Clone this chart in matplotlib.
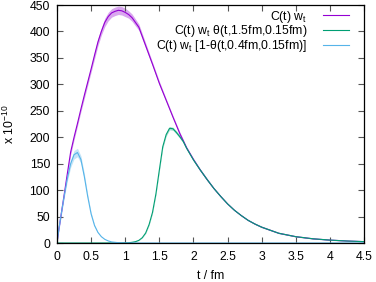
import matplotlib
matplotlib.use("Agg")
import matplotlib.pyplot as plt
import numpy as np

plt.rcParams['font.family'] = ['Liberation Sans', 'DejaVu Sans']
plt.rcParams['mathtext.fontset'] = 'custom'
plt.rcParams['mathtext.rm'] = 'Liberation Sans'
plt.rcParams['mathtext.it'] = 'Liberation Sans'

# ---- data ----
t_full = [0, 0.025, 0.05, 0.075, 0.1, 0.15, 0.2, 0.25, 0.3, 0.35, 0.4, 0.45, 0.5, 0.55,
          0.6, 0.65, 0.7, 0.75, 0.8, 0.85, 0.9, 0.95, 1.0, 1.05, 1.1, 1.2, 1.3, 1.4,
          1.5, 1.6, 1.7, 1.8, 1.9, 2.0, 2.1, 2.2, 2.3, 2.4, 2.5, 2.6, 2.7, 2.8, 2.9,
          3.0, 3.25, 3.5, 3.75, 4.0, 4.25, 4.5]
c_full = [0, 24, 45, 66, 87, 130, 172, 200, 226, 253, 279, 304, 329, 355,
          380, 400, 417, 428, 435, 438, 440, 439, 436, 432, 426, 408, 373, 338,
          302, 270, 238, 207, 180, 158, 138, 120, 103, 88, 74, 62, 52, 43, 36,
          30, 18.5, 12, 8, 5.5, 3.8, 2.6]
c_full_err = [0, 2, 3, 3, 4, 4, 5, 5, 5, 5, 6, 6, 6, 7,
              7, 7, 8, 8, 8, 8, 8, 8, 8, 7, 7, 6, 5, 4,
              4, 3, 3, 3, 2, 2, 2, 2, 1.5, 1.5, 1, 1, 1, 1, 1,
              1, 0.8, 0.6, 0.5, 0.4, 0.3, 0.3]

t_late = [0, 0.5, 0.9, 1.0, 1.05, 1.1, 1.15, 1.2, 1.25, 1.3, 1.35, 1.4, 1.45, 1.5, 1.55,
          1.6, 1.65, 1.7, 1.75, 1.8, 1.85, 1.9, 2.0, 2.1, 2.2, 2.3, 2.4, 2.5, 2.6,
          2.7, 2.8, 2.9, 3.0, 3.25, 3.5, 3.75, 4.0, 4.25, 4.5]
c_late = [0, 0, 0.1, 0.3, 0.5, 1.3, 2.5, 5, 10, 19, 35, 58, 93, 138, 182,
          205, 217, 216, 209, 201, 192, 179, 157, 138, 120, 103, 88, 74, 62,
          52, 43, 36, 30, 18.5, 12, 8, 5.5, 3.8, 2.6]
c_late_err = [0, 0, 0, 0, 0, 0, 0.2, 0.3, 0.5, 1, 1.5, 2, 2.5, 3, 3,
              3, 3, 3, 3, 3, 2.5, 2, 2, 2, 2, 1.5, 1.5, 1, 1,
              1, 1, 1, 1, 0.8, 0.6, 0.5, 0.4, 0.3, 0.3]

t_early = [0, 0.025, 0.05, 0.075, 0.1, 0.15, 0.2, 0.25, 0.3, 0.35, 0.4, 0.45, 0.5,
           0.55, 0.6, 0.65, 0.7, 0.75, 0.8, 0.9, 1.0, 1.2, 1.5, 2.0, 3.0, 4.5]
c_early = [0, 24, 45, 65, 85, 121, 150, 167, 171, 158, 126, 88, 55,
           33, 20, 12, 7, 4, 2, 0.6, 0.2, 0, 0, 0, 0, 0]
c_early_err = [0, 2, 3, 3, 4, 5, 7, 8, 8, 7, 6, 4, 3,
               2, 1, 0.5, 0.3, 0.2, 0.1, 0, 0, 0, 0, 0, 0, 0]

labels = [r"C(t) w$_\mathrm{t}$",
          r"C(t) w$_\mathrm{t}$ θ(t,1.5fm,0.15fm)",
          r"C(t) w$_\mathrm{t}$ [1-θ(t,0.4fm,0.15fm)]"]
colors = ["#9400d3", "#009e73", "#56b4e9"]

xticks = [0, 0.5, 1, 1.5, 2, 2.5, 3, 3.5, 4, 4.5]
xtick_labels = ["0", "0.5", "1", "1.5", "2", "2.5", "3", "3.5", "4", "4.5"]
yticks = [0, 50, 100, 150, 200, 250, 300, 350, 400, 450]

FS = 8.8
fig = plt.figure(figsize=(3.76, 2.82), dpi=100)
ax = fig.add_axes([57/376, 1-243/282, 307/376, 238/282])

series = [(t_full, c_full, c_full_err), (t_late, c_late, c_late_err),
          (t_early, c_early, c_early_err)]
for (tt, cc, ee), col, lab in zip(series, colors, labels):
    tt = np.array(tt); cc = np.array(cc); ee = np.array(ee)
    ax.fill_between(tt, cc - ee, cc + ee, color=col, alpha=0.35, lw=0)
    ax.plot(tt, cc, color=col, lw=0.8, label=lab)

ax.set_xlim(0, 4.5)
ax.set_ylim(0, 450)
ax.set_xticks(xticks)
ax.set_xticklabels(xtick_labels)
ax.set_yticks(yticks)
ax.tick_params(direction='in', length=4, width=0.8, top=True, right=True,
               labelsize=FS, color='#555555')
ax.tick_params(axis='x', pad=6)
ax.tick_params(axis='y', pad=5)
for s in ax.spines.values():
    s.set_linewidth(0.9)
ax.set_xlabel("t / fm", fontsize=FS, labelpad=5)
ax.set_ylabel(r"x 10$^{-10}$", fontsize=FS, labelpad=9)

leg = ax.legend(loc='upper right', bbox_to_anchor=(0.95, 0.985), frameon=False,
                markerfirst=False, fontsize=FS, handlelength=2.1,
                handletextpad=1.3, labelspacing=-0.1, borderpad=0, borderaxespad=0)
fig.savefig("out.png", dpi=100)
